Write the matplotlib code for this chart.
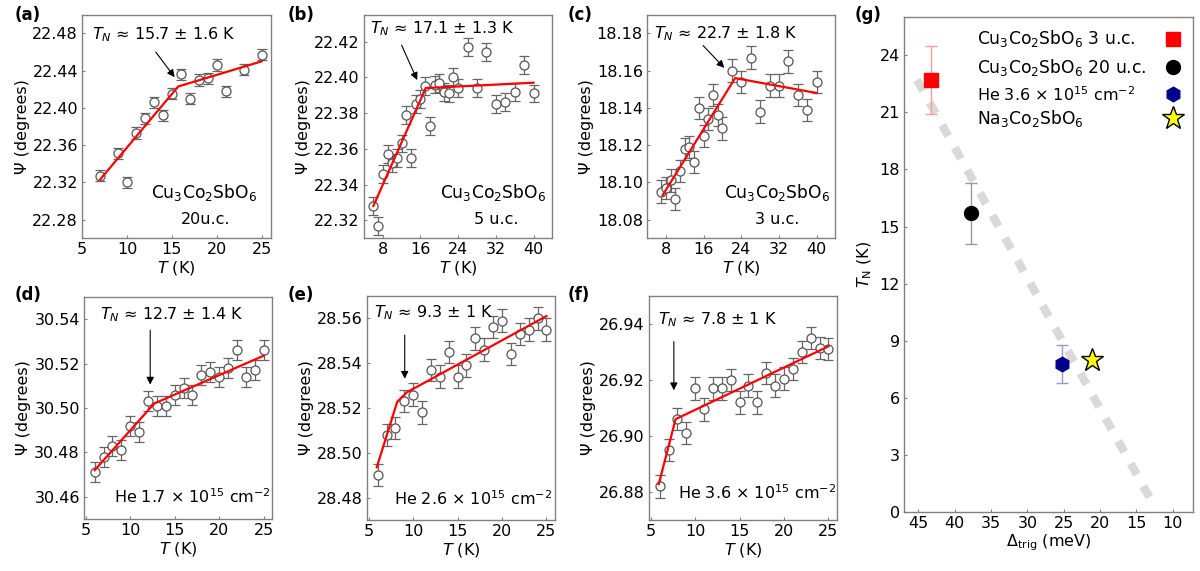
"""
Psi(T) de las capas Cu3Co2SbO6 y T_N frente a Delta_trig
"""
import numpy as np
import matplotlib
matplotlib.use('Agg')
import matplotlib.pyplot as plt

plt.rcParams['font.family'] = ['DejaVu Sans']
plt.rcParams['font.size'] = 11.5
plt.rcParams['mathtext.fontset'] = 'dejavusans'

#Datos --------------------------------------------------
#(a) 20 u.c.
T_a = [7, 9, 10, 11, 12, 13, 14, 15, 16, 17, 18, 19, 20, 21, 23, 25]
psi_a = [22.327, 22.351, 22.320, 22.373, 22.389, 22.406, 22.392, 22.415,
         22.436, 22.410, 22.430, 22.432, 22.446, 22.418, 22.441, 22.457]
fitT_a = [7, 15.7, 25]
fitpsi_a = [22.323, 22.423, 22.450]

#(b) 5 u.c.
T_b = [6, 7, 8, 9, 10, 11, 12, 13, 14, 15, 16, 17, 18, 19, 20, 21, 22, 23,
       24, 26, 28, 30, 32, 34, 36, 38, 40]
psi_b = [22.328, 22.317, 22.346, 22.357, 22.352, 22.355, 22.363, 22.379,
         22.355, 22.385, 22.388, 22.395, 22.373, 22.396, 22.397, 22.392,
         22.391, 22.400, 22.394, 22.417, 22.394, 22.414, 22.385, 22.386,
         22.392, 22.407, 22.391]
fitT_b = [6, 17.1, 40]
fitpsi_b = [22.328, 22.394, 22.397]

#(c) 3 u.c.
T_c = [7, 8, 9, 10, 11, 12, 13, 14, 15, 16, 17, 18, 19, 20, 22, 24, 26, 28,
       30, 32, 34, 36, 38, 40]
psi_c = [18.095, 18.097, 18.101, 18.091, 18.106, 18.118, 18.119, 18.111,
         18.140, 18.125, 18.134, 18.147, 18.136, 18.129, 18.160, 18.154,
         18.167, 18.138, 18.152, 18.152, 18.165, 18.147, 18.139, 18.154]
fitT_c = [7.3, 22.7, 40]
fitpsi_c = [18.093, 18.156, 18.148]

#(d) He 1.7e15
T_d = list(range(6, 26))
psi_d = [30.471, 30.478, 30.483, 30.481, 30.492, 30.489, 30.503, 30.501,
         30.501, 30.506, 30.509, 30.506, 30.515, 30.516, 30.514, 30.518,
         30.526, 30.514, 30.517, 30.526]
fitT_d = [6, 12.7, 25]
fitpsi_d = [30.472, 30.502, 30.5235]

#(e) He 2.6e15
T_e = list(range(6, 26))
psi_e = [28.490, 28.508, 28.511, 28.523, 28.526, 28.518, 28.537, 28.534,
         28.545, 28.534, 28.539, 28.551, 28.546, 28.556, 28.559, 28.544,
         28.553, 28.555, 28.560, 28.555]
fitT_e = [5.9, 8.2, 9.3, 25]
fitpsi_e = [28.4935, 28.5227, 28.527, 28.561]

#(f) He 3.6e15
T_f = list(range(6, 26))
psi_f = [26.882, 26.895, 26.906, 26.901, 26.917, 26.9095, 26.917, 26.917,
         26.920, 26.912, 26.918, 26.912, 26.9225, 26.918, 26.9205, 26.924,
         26.930, 26.935, 26.9315, 26.931]
fitT_f = [5.9, 7.8, 25]
fitpsi_f = [26.8828, 26.906, 26.932]

#(g) T_N frente a Delta_trig
delta_g = [43.3, 37.8, 25.2, 21.1]
TN_g = [22.7, 15.7, 7.8, 8.0]
TNerr_g = [1.8, 1.6, 1.0, 0.0]
guia_delta = [45.2, 12.8]
guia_TN = [22.7, 0.5]

GRIS = '#808080'
FS_CU = 12.3   #los textos con subindices salen algo mas anchos en el original


#Estilo comun de los paneles ----------------------------
def estilo(ax):
    for s in ax.spines.values():
        s.set_color(GRIS)
        s.set_linewidth(1.0)
    ax.tick_params(direction='in', length=2.5, color=GRIS, width=0.8,
                   labelsize=11.5, pad=3)


#Panel Psi(T) con ajuste a dos rectas
def panelPsi(pos, T, psi, err, fitT, fitpsi, xlim, ylim, xticks, yticks,
             texto_TN, pos_TN, flecha, muestra, pos_muestra, fs_muestra=11.5,
             fmt='%.2f'):
    ax = fig.add_axes(pos)
    ax.errorbar(T, psi, yerr=err, fmt='o', mfc='white', mec='#555555',
                mew=0.9, ms=6.5, ecolor='#666666', elinewidth=0.9,
                capsize=3.5, capthick=0.9, zorder=2)
    ax.plot(fitT, fitpsi, '-', color='#ff0000', lw=1.6, zorder=3)
    ax.set_xlim(xlim)
    ax.set_ylim(ylim)
    ax.set_xticks(xticks)
    ax.set_yticks(yticks)
    ax.set_yticklabels([fmt % y for y in yticks])
    ax.set_xlabel('$T$ (K)', labelpad=1)
    ax.set_ylabel('Ψ (degrees)', labelpad=2)
    ax.text(pos_TN[0], pos_TN[1], texto_TN, transform=ax.transAxes,
            ha='left', va='center')
    ax.annotate('', xy=flecha[1], xytext=flecha[0],
                arrowprops=dict(arrowstyle='-|>', color='k', lw=0.8,
                                mutation_scale=11, shrinkA=0, shrinkB=0))
    for i, (x, y, s, ha) in enumerate(zip(pos_muestra[0], pos_muestra[1],
                                          muestra, pos_muestra[2])):
        fs = fs_muestra if i == 0 else 11.5
        ax.text(x, y, s, transform=ax.transAxes, ha=ha, va='center',
                fontsize=fs)
    estilo(ax)
    return ax


fig = plt.figure(figsize=(12, 5.71), dpi=100)

CU = 'Cu$_3$Co$_2$SbO$_6$'

panelPsi([0.0685, 0.583, 0.157, 0.391], T_a, psi_a, 0.006, fitT_a, fitpsi_a,
         (5, 26), (22.26, 22.50), [5, 10, 15, 20, 25],
         [22.28, 22.32, 22.36, 22.40, 22.44, 22.48],
         r'$T_N$ ≈ 15.7 ± 1.6 K', (0.05, 0.913),
         ((13.2, 22.46), (15.3, 22.433)),
         [CU, '20u.c.'], ([0.645, 0.655], [0.204, 0.082], ['center', 'center']),
         fs_muestra=FS_CU)

panelPsi([0.3033, 0.583, 0.157, 0.391], T_b, psi_b, 0.005, fitT_b, fitpsi_b,
         (4, 44), (22.31, 22.435), [8, 16, 24, 32, 40],
         [22.32, 22.34, 22.36, 22.38, 22.40, 22.42],
         r'$T_N$ ≈ 17.1 ± 1.3 K', (0.03, 0.936),
         ((12.0, 22.418), (15.3, 22.3985)),
         [CU, '5 u.c.'], ([0.685, 0.70], [0.204, 0.082], ['center', 'center']),
         fs_muestra=FS_CU)

panelPsi([0.5392, 0.583, 0.157, 0.391], T_c, psi_c, 0.006, fitT_c, fitpsi_c,
         (4, 44), (18.07, 18.19), [8, 16, 24, 32, 40],
         [18.08, 18.10, 18.12, 18.14, 18.16, 18.18],
         r'$T_N$ ≈ 22.7 ± 1.8 K', (0.035, 0.918),
         ((15.9, 18.1735), (20.4, 18.1615)),
         [CU, '3 u.c.'], ([0.69, 0.69], [0.204, 0.082], ['center', 'center']),
         fs_muestra=FS_CU)

panelPsi([0.07, 0.091, 0.157, 0.389], T_d, psi_d, 0.0045, fitT_d, fitpsi_d,
         (4.8, 26), (30.45, 30.55), [5, 10, 15, 20, 25],
         [30.46, 30.48, 30.50, 30.52, 30.54],
         r'$T_N$ ≈ 12.7 ± 1.4 K', (0.085, 0.918),
         ((12.25, 30.535), (12.25, 30.5105)),
         ['He 1.7 × 10$^{15}$ cm$^{-2}$'], ([0.99], [0.10], ['right']))

panelPsi([0.3058, 0.0893, 0.157, 0.3925], T_e, psi_e, 0.005, fitT_e, fitpsi_e,
         (4.8, 26), (28.47, 28.57), [5, 10, 15, 20, 25],
         [28.48, 28.50, 28.52, 28.54, 28.56],
         r'$T_N$ ≈ 9.3 ± 1 K', (0.037, 0.923),
         ((9.05, 28.5525), (9.05, 28.533)),
         ['He 2.6 × 10$^{15}$ cm$^{-2}$'], ([0.985], [0.097], ['right']))

panelPsi([0.5408, 0.0893, 0.157, 0.3925], T_f, psi_f, 0.004, fitT_f, fitpsi_f,
         (4.8, 26), (26.87, 26.95), [5, 10, 15, 20, 25],
         [26.88, 26.90, 26.92, 26.94],
         r'$T_N$ ≈ 7.8 ± 1 K', (0.046, 0.893),
         ((7.6, 26.9337), (7.6, 26.9163)),
         ['He 3.6 × 10$^{15}$ cm$^{-2}$'], ([0.995], [0.12], ['right']))

#Panel (g) -----------------------------------------------
axg = fig.add_axes([0.7533, 0.103, 0.241, 0.867])
axg.plot(guia_delta, guia_TN, '-', color='#d9d9d9', lw=6,
         dashes=(1.5, 1.6), solid_capstyle='butt', zorder=1)

estilos_g = [dict(marker='s', color='#ff0000', ms=9.5, ecol='#ff9999',
                  label=CU + ' 3 u.c.', mec='#ff0000', fs=FS_CU),
             dict(marker='o', color='black', ms=10, ecol='#999999',
                  label=CU + ' 20 u.c.', mec='black', fs=FS_CU),
             dict(marker='h', color='#00008b', ms=10.5, ecol='#9999cc',
                  label='He 3.6 × 10$^{15}$ cm$^{-2}$', mec='#00008b', fs=11.5),
             dict(marker='*', color='#ffff00', ms=17, ecol='none',
                  label='Na$_3$Co$_2$SbO$_6$', mec='black', fs=FS_CU)]

#leyenda hecha a mano: texto alineado a la izquierda y simbolo a la derecha
fila_y = [0.956, 0.899, 0.844, 0.796]

for d, t, e, st, fy in zip(delta_g, TN_g, TNerr_g, estilos_g, fila_y):
    if e > 0:
        axg.errorbar(d, t, yerr=e, fmt='none', ecolor=st['ecol'],
                     elinewidth=1.0, capsize=4, capthick=1.0, zorder=2)
    axg.plot(d, t, linestyle='none', marker=st['marker'], color=st['color'],
             mec=st['mec'], mew=1.0, ms=st['ms'], zorder=3)
    axg.text(0.253, fy, st['label'], transform=axg.transAxes,
             ha='left', va='center', fontsize=st['fs'])
    axg.plot([0.931], [fy], transform=axg.transAxes, linestyle='none',
             marker=st['marker'], color=st['color'], mec=st['mec'], mew=1.0,
             ms=st['ms'], clip_on=False)

axg.set_xlim(47, 7.2)
axg.set_ylim(0, 26)
axg.set_xticks([45, 40, 35, 30, 25, 20, 15, 10])
axg.set_yticks([0, 3, 6, 9, 12, 15, 18, 21, 24])
axg.set_xlabel(r'$\Delta_{\rm trig}$ (meV)', labelpad=1)
axg.set_ylabel(r'$T_{\rm N}$ (K)', labelpad=4)
estilo(axg)

#Etiquetas de los paneles --------------------------------
etiquetas = ['(a)', '(b)', '(c)', '(d)', '(e)', '(f)', '(g)']
px = [15, 288, 568, 15, 288, 568, 855]
py = [15, 15, 15, 295, 295, 295, 15]
for s, x, y in zip(etiquetas, px, py):
    fig.text(x / 1200, 1 - y / 571, s, fontweight='bold', fontsize=12,
             ha='left', va='center')

fig.savefig('out.png', dpi=100)
